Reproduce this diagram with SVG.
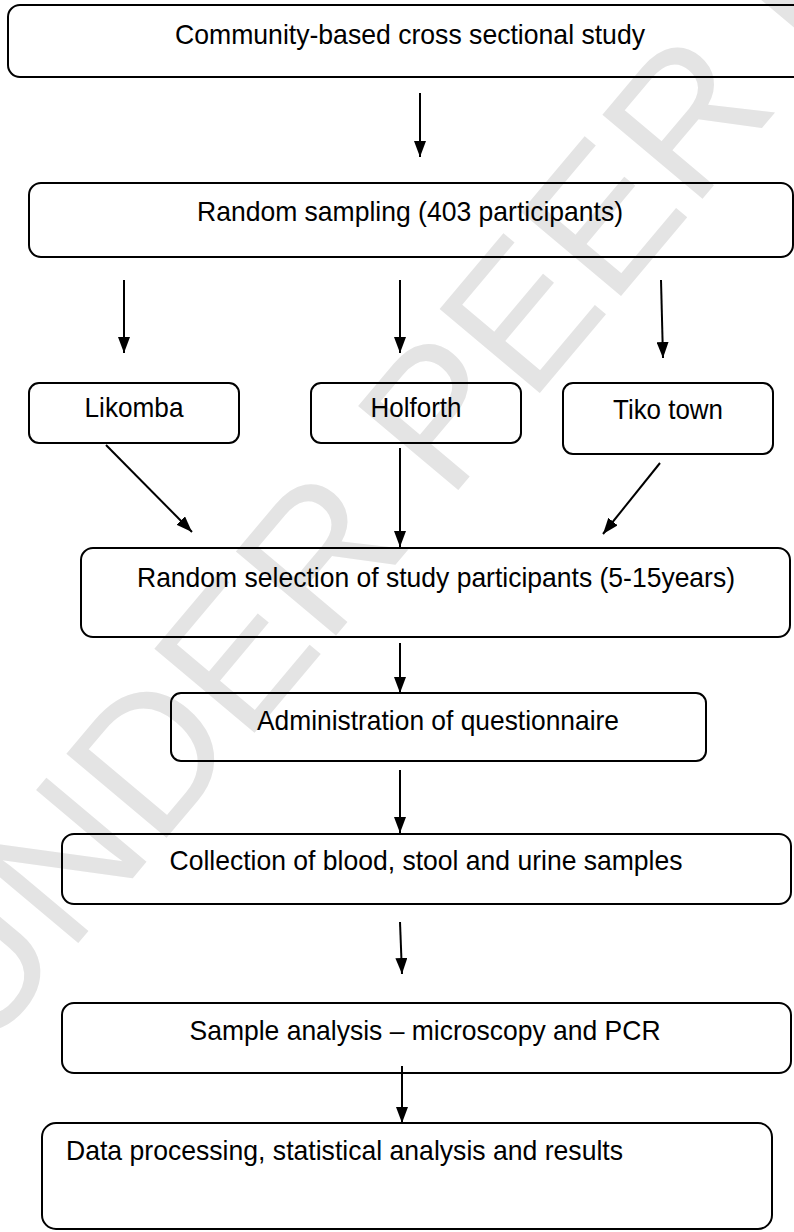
<svg xmlns="http://www.w3.org/2000/svg" width="794" height="1232" viewBox="0 0 794 1232">
<style>
.box{fill:none;stroke:#000;stroke-width:2}
.t{font-family:"Liberation Sans",Arial,sans-serif;font-size:28px;fill:#000;text-anchor:middle}
.s{text-anchor:start}
.c{stroke:#000;stroke-width:2;fill:none}
.wm{font-family:"Liberation Sans",Arial,sans-serif;font-size:190px;fill:#e4e4e4}
</style>
<defs>
<marker id="ah" markerWidth="16" markerHeight="12" refX="16" refY="6" orient="auto" markerUnits="userSpaceOnUse">
<path d="M0,0 L16,6 L0,12 Z" fill="#000"/>
</marker>
</defs>
<rect width="794" height="1232" fill="#fff"/>
<g id="watermark">
<text class="wm" x="-20" y="1060" transform="rotate(-50 -20 1060)">UNDER PEER REVIEW</text>
</g>
<g id="n1"><rect class="box" x="8" y="5" width="800" height="72" rx="12"/><text class="t" x="410" y="44" textLength="470" lengthAdjust="spacingAndGlyphs">Community-based cross sectional study</text></g>
<g id="n2"><rect class="box" x="29" y="183" width="764" height="74" rx="12"/><text class="t" x="410" y="221" textLength="426" lengthAdjust="spacingAndGlyphs">Random sampling (403 participants)</text></g>
<g id="n3"><rect class="box" x="29" y="383" width="210" height="60" rx="10"/><text class="t" x="134" y="417" textLength="99" lengthAdjust="spacingAndGlyphs">Likomba</text></g>
<g id="n4"><rect class="box" x="311" y="383" width="210" height="60" rx="10"/><text class="t" x="416" y="417" textLength="91" lengthAdjust="spacingAndGlyphs">Holforth</text></g>
<g id="n5"><rect class="box" x="563" y="383" width="210" height="71" rx="10"/><text class="t" x="668" y="419" textLength="110" lengthAdjust="spacingAndGlyphs">Tiko town</text></g>
<g id="n6"><rect class="box" x="81" y="548" width="709" height="89" rx="12"/><text class="t" x="436" y="587" textLength="598" lengthAdjust="spacingAndGlyphs">Random selection of study participants (5-15years)</text></g>
<g id="n7"><rect class="box" x="171" y="693" width="535" height="68" rx="10"/><text class="t" x="438" y="730" textLength="362" lengthAdjust="spacingAndGlyphs">Administration of questionnaire</text></g>
<g id="n8"><rect class="box" x="62" y="834" width="729" height="70" rx="12"/><text class="t" x="426" y="870" textLength="513" lengthAdjust="spacingAndGlyphs">Collection of blood, stool and urine samples</text></g>
<g id="n9"><rect class="box" x="62" y="1003" width="729" height="70" rx="12"/><text class="t" x="425" y="1040" textLength="471" lengthAdjust="spacingAndGlyphs">Sample analysis – microscopy and PCR</text></g>
<g id="n10"><rect class="box" x="42" y="1123" width="730" height="106" rx="14"/><text class="t s" x="66" y="1160" textLength="557" lengthAdjust="spacingAndGlyphs">Data processing, statistical analysis and results</text></g>
<g id="connectors">
<line class="c" x1="420" y1="93" x2="420" y2="157" marker-end="url(#ah)"/>
<line class="c" x1="124" y1="280" x2="124" y2="353" marker-end="url(#ah)"/>
<line class="c" x1="400" y1="280" x2="400" y2="353" marker-end="url(#ah)"/>
<line class="c" x1="661" y1="280" x2="663" y2="358" marker-end="url(#ah)"/>
<line class="c" x1="106" y1="445" x2="192" y2="532" marker-end="url(#ah)"/>
<line class="c" x1="400" y1="448" x2="400" y2="547" marker-end="url(#ah)"/>
<line class="c" x1="660" y1="463" x2="603" y2="534" marker-end="url(#ah)"/>
<line class="c" x1="400" y1="643" x2="400" y2="693" marker-end="url(#ah)"/>
<line class="c" x1="400" y1="770" x2="400" y2="833" marker-end="url(#ah)"/>
<line class="c" x1="400" y1="922" x2="402" y2="974" marker-end="url(#ah)"/>
<line class="c" x1="402" y1="1066" x2="402" y2="1123" marker-end="url(#ah)"/>
</g>
</svg>
